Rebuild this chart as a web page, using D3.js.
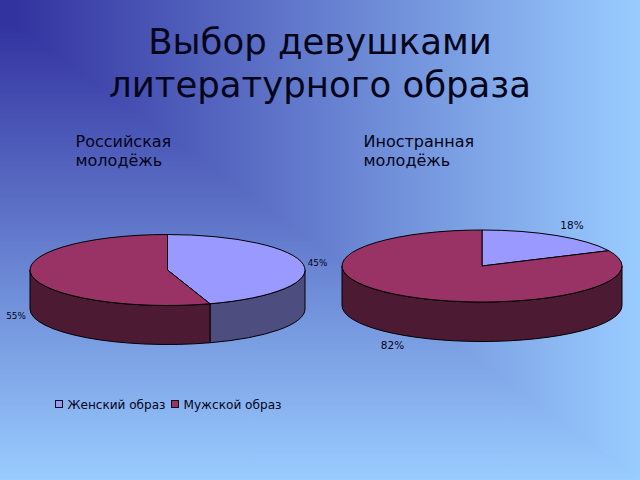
<!DOCTYPE html>
<html>
<head>
<meta charset="utf-8">
<script src="https://cdn.jsdelivr.net/npm/d3@7"></script>
<style>
    html, body { margin: 0; padding: 0; overflow: hidden; }
    text { font-family: "DejaVu Sans", sans-serif; fill: #05051a; }
</style>
</head>
<body>
<div id="chart"></div>
<script>
var titleLines = ["Выбор девушками", "литературного образа"];
var categories = ["Женский образ", "Мужской образ"];
var russianValues = [45, 55];
var foreignValues = [18, 82];
var russianHeading = ["Российская", "молодёжь"];
var foreignHeading = ["Иностранная", "молодёжь"];

var colors = ["#9999ff", "#993366"];
var wallColors = ["#4d4d80", "#4d1a33"];

var width = 640, height = 480;

var svg = d3.select("#chart").append("svg")
    .attr("width", width)
    .attr("height", height)
    .style("display", "block");

// background is a rectangular gradient out of a point near the top left corner:
// a vertical gradient everywhere, and a horizontal one over the upper right part
var defs = svg.append("defs");
var bgX = 15, bgY = 25;
var bgDark = "#3333a0", bgLight = "#99ccff";

function addGradient(id, x1, y1, x2, y2) {
    var grad = defs.append("linearGradient")
        .attr("id", id)
        .attr("gradientUnits", "userSpaceOnUse")
        .attr("x1", x1).attr("y1", y1).attr("x2", x2).attr("y2", y2);
    grad.append("stop").attr("offset", "0").attr("stop-color", bgDark);
    grad.append("stop").attr("offset", "1").attr("stop-color", bgLight);
}
addGradient("bg-right", bgX, 0, width, 0);
addGradient("bg-bottom", 0, bgY, 0, height);

svg.append("rect")
    .attr("width", width)
    .attr("height", height)
    .attr("fill", "url(#bg-bottom)");

svg.append("path")
    .attr("d", "M" + [[bgX, bgY], [bgX, 0], [width, 0], [width, height]].join("L") + "Z")
    .attr("fill", "url(#bg-right)");

// title
svg.selectAll(".title")
    .data(titleLines)
    .enter()
    .append("text")
    .attr("class", "title")
    .attr("x", 320)
    .attr("y", function(d, i) { return 53.5 + i * 43.5; })
    .attr("text-anchor", "middle")
    .style("font-size", "35.5px")
    .text(function(d) { return d; });

function drawHeading(lines, x) {
    svg.selectAll(null)
        .data(lines)
        .enter()
        .append("text")
        .attr("x", x)
        .attr("y", function(d, i) { return 147 + i * 19; })
        .style("font-size", "16px")
        .text(function(d) { return d; });
}
drawHeading(russianHeading, 75.5);
drawHeading(foreignHeading, 363.5);

var pie = d3.pie().sort(null);

function drawPie(values, cx, cy, rx, ry, depth, labelSpots, fontSize) {
    var g = svg.append("g").attr("transform", "translate(" + cx + "," + cy + ")");
    var slices = pie(values);

    var px = function(a) { return rx * Math.sin(a); };
    var py = function(a) { return -ry * Math.cos(a); };

    // side walls, only the front half of the rim shows
    slices.forEach(function(s, i) {
        var a0 = Math.max(s.startAngle, Math.PI / 2);
        var a1 = Math.min(s.endAngle, Math.PI * 1.5);
        if (a1 <= a0) return;
        var large = (a1 - a0) > Math.PI ? 1 : 0;
        g.append("path")
            .attr("d", "M" + px(a0) + "," + py(a0)
                + "A" + rx + "," + ry + " 0 " + large + " 1 " + px(a1) + "," + py(a1)
                + "L" + px(a1) + "," + (py(a1) + depth)
                + "A" + rx + "," + ry + " 0 " + large + " 0 " + px(a0) + "," + (py(a0) + depth)
                + "Z")
            .attr("fill", wallColors[i])
            .attr("stroke", "#000")
            .attr("stroke-width", 1)
            .attr("stroke-linejoin", "round");
    });

    // top face
    slices.forEach(function(s, i) {
        var large = (s.endAngle - s.startAngle) > Math.PI ? 1 : 0;
        g.append("path")
            .attr("d", "M0,0L" + px(s.startAngle) + "," + py(s.startAngle)
                + "A" + rx + "," + ry + " 0 " + large + " 1 " + px(s.endAngle) + "," + py(s.endAngle)
                + "Z")
            .attr("fill", colors[i])
            .attr("stroke", "#000")
            .attr("stroke-width", 1)
            .attr("stroke-linejoin", "round");
    });

    values.forEach(function(v, i) {
        svg.append("text")
            .attr("x", labelSpots[i][0])
            .attr("y", labelSpots[i][1])
            .attr("text-anchor", "middle")
            .style("font-size", fontSize + "px")
            .text(v + "%");
    });
}

drawPie(russianValues, 167.5, 270, 137.5, 35.5, 39, [[317.5, 266], [16, 318.5]], 8.8);
drawPie(foreignValues, 482, 266, 140, 36, 39.5, [[572, 228.5], [392.5, 349]], 10.5);

// legend
var legendX = [55.5, 171.5];
var legendLen = [98, 98];
categories.forEach(function(c, i) {
    svg.append("rect")
        .attr("x", legendX[i])
        .attr("y", 400.5)
        .attr("width", 7)
        .attr("height", 7)
        .attr("fill", colors[i])
        .attr("stroke", "#111")
        .attr("stroke-width", 1);
    svg.append("text")
        .attr("x", legendX[i] + 12)
        .attr("y", 409)
        .attr("textLength", legendLen[i])
        .attr("lengthAdjust", "spacingAndGlyphs")
        .style("font-size", "13px")
        .text(c);
});
</script>
</body>
</html>
